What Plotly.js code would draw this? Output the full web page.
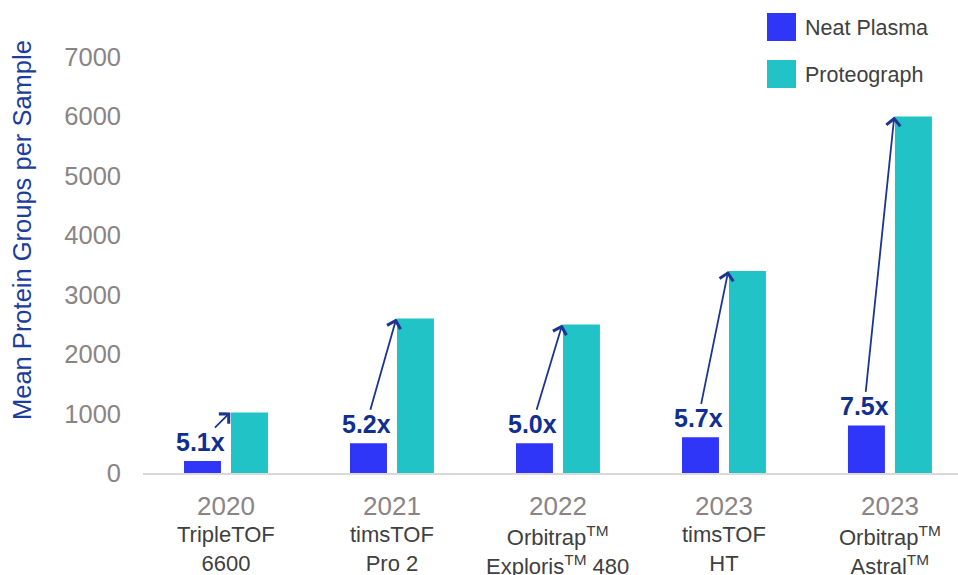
<!DOCTYPE html>
<html>
<head>
<meta charset="utf-8">
<script src="https://cdn.plot.ly/plotly-3.0.1.min.js"></script>
<style>
  html, body { margin: 0; padding: 0; background: #ffffff; }
  #chart { width: 958px; height: 575px; }
</style>
</head>
<body>
<div id="chart"></div>
<script>
// ---- data ----
const years = ['2020', '2021', '2022', '2023', '2023'];
const instrumentLine1 = ['TripleTOF', 'timsTOF', 'Orbitrap<sup>TM</sup>', 'timsTOF', 'Orbitrap<sup>TM</sup>'];
const instrumentLine2 = ['6600', 'Pro 2', 'Exploris<sup>TM</sup> 480', 'HT', 'Astral<sup>TM</sup>'];
const seriesNames = ['Neat Plasma', 'Proteograph'];
const neatPlasma = [200, 500, 500, 600, 800];
const proteograph = [1020, 2600, 2500, 3400, 6000];
const foldLabels = ['5.1x', '5.2x', '5.0x', '5.7x', '7.5x'];
const yTicks = [0, 1000, 2000, 3000, 4000, 5000, 6000, 7000];
const yTitle = 'Mean Protein Groups per Sample';

// ---- geometry helpers (page pixels -> paper coords) ----
const W = 958, H = 575;
const M = { l: 143, r: 0, t: 57, b: 102 };
const plotW = W - M.l - M.r, plotH = H - M.t - M.b;
const yMax = 7000;
const px2x = px => (px - M.l) / plotW;
const px2y = py => (H - M.b - py) / plotH;
const pxToData = p => p * yMax / plotH;

const colors = ['#3036F8', '#22C3C6'];
const font = 'Liberation Sans, Arial, sans-serif';
const idx = years.map((_, i) => i);

const traces = [
  { type: 'bar', name: seriesNames[0], x: idx, y: neatPlasma, marker: { color: colors[0] }, hoverinfo: 'y' },
  { type: 'bar', name: seriesNames[1], x: idx, y: proteograph, marker: { color: colors[1] }, hoverinfo: 'y' }
];

const annotations = [];
const shapes = [];

// fold-change labels with arrows
idx.forEach(i => {
  annotations.push({
    xref: 'x', yref: 'y', axref: 'x', ayref: 'y',
    x: i + 0.026, y: proteograph[i],
    ax: i - 0.155, ay: neatPlasma[i] + pxToData(19),
    text: '<b>' + foldLabels[i] + '</b>',
    font: { family: font, size: 25, color: '#112F8F' },
    showarrow: true, arrowhead: 4, arrowsize: 1.5, arrowwidth: 1.8,
    arrowcolor: '#1A3592', standoff: 0, startstandoff: 0,
    borderpad: 0
  });
});

// x category labels: year, then two-line instrument name
idx.forEach(i => {
  annotations.push({ xref: 'x', yref: 'paper', x: i, y: px2y(505.5), yanchor: 'middle', xanchor: 'center',
    text: years[i], showarrow: false, font: { family: font, size: 26, color: '#8B8485' } });
  annotations.push({ xref: 'x', yref: 'paper', x: i, y: px2y(521), yanchor: 'top', xanchor: 'center',
    text: instrumentLine1[i] + '<br>' + instrumentLine2[i], showarrow: false, borderpad: 0,
    font: { family: font, size: 22, color: '#404040' } });
});

// y axis title
annotations.push({ xref: 'paper', yref: 'paper', x: px2x(22), y: px2y(230), xanchor: 'center', yanchor: 'middle',
  textangle: -90, text: yTitle, showarrow: false, font: { family: font, size: 25.5, color: '#1B3D9C' } });

// custom legend
const legendTop = [13, 60];
seriesNames.forEach((name, k) => {
  shapes.push({ type: 'rect', xref: 'paper', yref: 'paper',
    x0: px2x(767), x1: px2x(796), y0: px2y(legendTop[k] + 28), y1: px2y(legendTop[k]),
    fillcolor: colors[k], line: { width: 0 } });
  annotations.push({ xref: 'paper', yref: 'paper', x: px2x(803), y: px2y(legendTop[k] + 15),
    xanchor: 'left', yanchor: 'middle', text: name, showarrow: false,
    font: { family: font, size: 21.5, color: '#404040' } });
});

const layout = {
  width: W, height: H,
  margin: M,
  paper_bgcolor: '#ffffff', plot_bgcolor: '#ffffff',
  barmode: 'group', bargap: 0.434, bargroupgap: 0.213,
  showlegend: false,
  font: { family: font },
  xaxis: {
    type: 'linear', range: [-0.5, 4.41], showgrid: false, zeroline: false,
    showticklabels: false, ticks: '', showline: true, linecolor: '#D9D9D9', linewidth: 2, fixedrange: true
  },
  yaxis: {
    range: [0, yMax], tickvals: yTicks, ticktext: yTicks.map(String), showgrid: false, zeroline: false,
    showline: false, ticks: '', ticklabelstandoff: 21,
    tickfont: { family: font, size: 25.5, color: '#8B8485' }, fixedrange: true
  },
  annotations: annotations,
  shapes: shapes
};

Plotly.newPlot('chart', traces, layout, { displayModeBar: false, staticPlot: true });
</script>
</body>
</html>
